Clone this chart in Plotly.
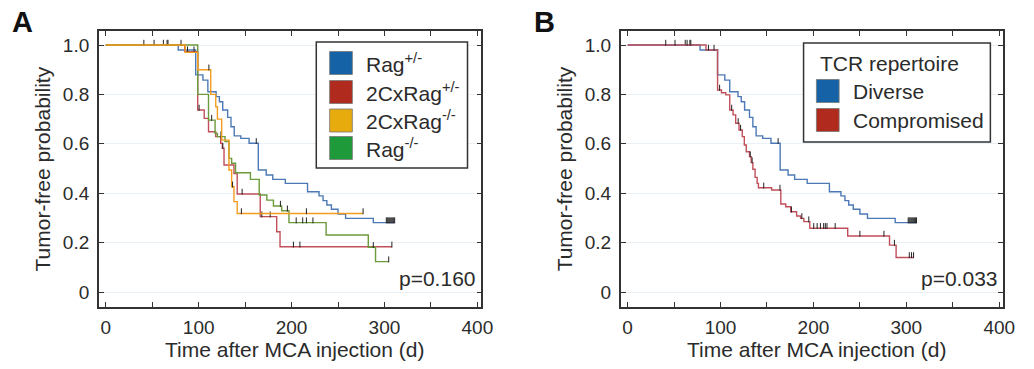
import plotly.graph_objects as go

# ---------------- data ----------------
# Rag+/- (panel A) == Diverse (panel B): event times (d) and survival after each event
diverse_t = [78, 96.8, 104.6, 109.9, 118.8, 122.3, 125.9, 131.2, 134.8, 138.3, 145.4, 154.3,
             164.2, 172.7, 179.8, 193.3, 217.2, 229.6, 233.9, 238, 242.9, 250, 258.2, 288]
diverse_s = [0.98, 0.879, 0.858, 0.811, 0.791, 0.770, 0.737, 0.707, 0.669, 0.632, 0.622, 0.602,
             0.494, 0.474, 0.456, 0.44, 0.406, 0.389, 0.37, 0.352, 0.335, 0.316, 0.298, 0.281]
diverse_end = 311
diverse_cens = [62, 67, 162, 302, 303, 304, 305, 306, 307, 308, 309, 310, 311]

compromised_t = [84.4, 96.8, 101, 105.7, 109.9, 113.5, 116.3, 119.9, 123.4, 125.6, 127.7, 131.2,
                 133, 134.8, 137.2, 139.4, 140.8, 155, 164.9, 170.2, 175.5, 181.9, 186.2, 189.7,
                 196.1, 236.9, 281.9, 289]
compromised_s = [0.98, 0.818, 0.807, 0.798, 0.737, 0.717, 0.683, 0.656, 0.629, 0.595, 0.568, 0.548,
                 0.524, 0.497, 0.464, 0.44, 0.422, 0.413, 0.356, 0.345, 0.325, 0.308, 0.298, 0.285,
                 0.258, 0.227, 0.19, 0.14]
compromised_end = 307.8
compromised_cens = [41, 51, 64, 68, 87, 93, 99, 112, 119, 121.6, 132, 134, 146.5, 164, 176.3,
                    187.5, 195, 200.3, 204, 207.5, 211, 212.8, 214.6, 223.4, 250, 275.9, 287.2,
                    303.2, 305.6, 307.8]

rag_het_t, rag_het_s, rag_het_end, rag_het_cens = diverse_t, diverse_s, diverse_end, diverse_cens

cx_het_t = [85, 99, 106, 110.6, 118.4, 123.7, 125.5, 127.3, 138, 141.5, 166.3, 184, 187.6]
cx_het_s = [0.973, 0.737, 0.703, 0.649, 0.629, 0.602, 0.582, 0.514, 0.48, 0.397, 0.305, 0.244, 0.183]
cx_het_end = 308
cx_het_cens = [88, 95, 100.5, 126, 146.8, 168, 177, 202, 209, 308]

cx_ko_t = [85.5, 99, 113, 118.4, 120.2, 124.8, 132.6, 135.5, 138, 141.5]
cx_ko_s = [0.97, 0.90, 0.80, 0.75, 0.70, 0.615, 0.494, 0.426, 0.366, 0.318]
cx_ko_end = 277
cx_ko_cens = [111, 136.5, 146, 216, 277]

rag_ko_t = [99, 110.6, 117.7, 120.2, 128.4, 132.6, 135.5, 139.7, 155.7, 165.2, 173.4, 180.5,
            189.4, 197.2, 237.2, 282.6, 290.4]
rag_ko_s = [0.80, 0.696, 0.642, 0.629, 0.609, 0.541, 0.521, 0.483, 0.456, 0.393, 0.372, 0.348,
            0.329, 0.281, 0.231, 0.181, 0.123]
rag_ko_end = 304.6
rag_ko_cens = [41, 52, 66, 81, 114, 124, 188, 195.5, 205, 212, 216, 223, 288, 304.6]

legend_a = ["Rag<sup>+/-</sup>", "2CxRag<sup>+/-</sup>", "2CxRag<sup>-/-</sup>", "Rag<sup>-/-</sup>"]
legend_b_title = "TCR repertoire"
legend_b = ["Diverse", "Compromised"]
p_a, p_b = "p=0.160", "p=0.033"
x_ticks = [0, 100, 200, 300, 400]
x_ticktext = ["0", "100", "200", "300", "400"]
x_minor_step = 50
y_ticks = [0, 0.2, 0.4, 0.6, 0.8, 1.0]
y_ticktext = ["0", "0.2", "0.4", "0.6", "0.8", "1.0"]

# ---------------- styling ----------------
W, H = 1034, 369
FONT = "Liberation Sans, Arial, sans-serif"
TXT = "#2b2b2b"
line_cols = {"blue": "#4c79b5", "red": "#c04f5a", "orange": "#f39c1e", "green": "#6b9b3a"}
swatch_cols = {"blue": "#1563a6", "red": "#b02a1e", "orange": "#e8ab0e", "green": "#1e9a3a"}


def fx(p):
    return p / W


def fy(p):
    return 1 - p / H


def surv_at(ts, ss, t):
    s = 1.0
    for te, se in zip(ts, ss):
        if te <= t:
            s = se
    return s


fig = go.Figure()


def add_curve(ts, ss, end, cens, color, xa, ya):
    xs = [0] + list(ts) + [end]
    ys = [1.0] + list(ss) + [ss[-1]]
    fig.add_trace(go.Scatter(x=xs, y=ys, mode="lines", line=dict(color=color, width=1.4, shape="hv"),
                             xaxis=xa, yaxis=ya, showlegend=False, hoverinfo="skip"))
    cy = [surv_at(ts, ss, c) for c in cens]
    fig.add_trace(go.Scatter(x=cens, y=cy, mode="markers",
                             marker=dict(size=0.1, color="rgba(0,0,0,0)"),
                             error_y=dict(type="data", symmetric=False, array=[0.021] * len(cens),
                                          arrayminus=[0.003] * len(cens), width=0, thickness=1,
                                          color="#222222"),
                             xaxis=xa, yaxis=ya, showlegend=False, hoverinfo="skip"))


# panel A
add_curve(rag_het_t, rag_het_s, rag_het_end, rag_het_cens, line_cols["blue"], "x", "y")
add_curve(cx_het_t, cx_het_s, cx_het_end, cx_het_cens, line_cols["red"], "x", "y")
add_curve(rag_ko_t, rag_ko_s, rag_ko_end, rag_ko_cens, line_cols["green"], "x", "y")
add_curve(cx_ko_t, cx_ko_s, cx_ko_end, cx_ko_cens, line_cols["orange"], "x", "y")
# panel B
add_curve(diverse_t, diverse_s, diverse_end, diverse_cens, line_cols["blue"], "x2", "y2")
add_curve(compromised_t, compromised_s, compromised_end, compromised_cens, line_cols["red"], "x2", "y2")

axis_common = dict(showline=True, linecolor="#333333", linewidth=1.6, mirror="ticks",
                   ticks="inside", ticklen=5, tickwidth=1.2, tickcolor="#333333",
                   tickfont=dict(family=FONT, size=19, color=TXT), zeroline=False)
minor_x = dict(dtick=x_minor_step, ticks="inside", ticklen=5, tickwidth=1.2, tickcolor="#333333",
               showgrid=False)
xr = [-7.45, 404.3]
yr = [-0.0607, 1.0567]
xdomA = [fx(100), fx(487)]
xdomB = [fx(628), fx(1015)]
ydom = [fy(307), fy(31)]

fig.update_layout(
    width=W, height=H, margin=dict(l=0, r=0, t=0, b=0),
    paper_bgcolor="white", plot_bgcolor="white", showlegend=False,
    xaxis=dict(domain=xdomA, range=xr, tickvals=x_ticks, ticktext=x_ticktext, showgrid=False,
               anchor="y", ticklabelstandoff=2, minor=minor_x, **axis_common),
    yaxis=dict(domain=ydom, range=yr, tickvals=y_ticks, ticktext=y_ticktext, showgrid=True,
               gridcolor="#e9f1f6", gridwidth=1, anchor="x", ticklabelstandoff=4, **axis_common),
    xaxis2=dict(domain=xdomB, range=xr, tickvals=x_ticks, ticktext=x_ticktext, showgrid=False,
                anchor="y2", ticklabelstandoff=2, minor=minor_x, **axis_common),
    yaxis2=dict(domain=ydom, range=yr, tickvals=y_ticks, ticktext=y_ticktext, showgrid=True,
                gridcolor="#e9f1f6", gridwidth=1, anchor="x2", ticklabelstandoff=4, **axis_common),
)

ann = []
shapes = []


def text(x, y, s, size=21, xanchor="center", yanchor="middle", bold=False, angle=0):
    ann.append(dict(x=fx(x), y=fy(y), xref="paper", yref="paper", text=(f"<b>{s}</b>" if bold else s),
                    showarrow=False, xanchor=xanchor, yanchor=yanchor, textangle=angle,
                    font=dict(family=FONT, size=size, color="#111111" if bold else TXT)))


for off in (0, 528):
    text(44 + off, 169, "Tumor-free probability", angle=-90)
    text(298 + off, 349, "Time after MCA injection (d)")

text(23, 22, "A", size=29, bold=True)
text(551, 22, "B", size=29, bold=True)
text(484, 278, p_a, xanchor="right")
text(1012, 278, p_b, xanchor="right")

# legend A
shapes.append(dict(type="rect", xref="paper", yref="paper", x0=fx(320), x1=fx(473), y0=fy(168), y1=fy(42),
                   line=dict(color="#333333", width=1.5), fillcolor="white", layer="above"))
rows_a = [63, 92, 120.5, 148]
for lbl, key, yc in zip(legend_a, ["blue", "red", "orange", "green"], rows_a):
    shapes.append(dict(type="rect", xref="paper", yref="paper", x0=fx(333.5), x1=fx(356.5),
                       y0=fy(yc + 11.5), y1=fy(yc - 11.5), line=dict(color="#777777", width=0.8),
                       fillcolor=swatch_cols[key], layer="above"))
    text(368, yc, lbl, xanchor="left")

# legend B
shapes.append(dict(type="rect", xref="paper", yref="paper", x0=fx(813), x1=fx(1002), y0=fy(142), y1=fy(43),
                   line=dict(color="#333333", width=1.5), fillcolor="white", layer="above"))
text(828, 63, legend_b_title, xanchor="left")
for lbl, key, yc in zip(legend_b, ["blue", "red"], [91, 120]):
    shapes.append(dict(type="rect", xref="paper", yref="paper", x0=fx(826), x1=fx(849),
                       y0=fy(yc + 11.5), y1=fy(yc - 11.5), line=dict(color="#777777", width=0.8),
                       fillcolor=swatch_cols[key], layer="above"))
    text(861, yc, lbl, xanchor="left")

fig.update_layout(annotations=ann, shapes=shapes)
fig.write_html("out.html", config={"displayModeBar": False},
               post_script="document.body.style.margin='0px';")
